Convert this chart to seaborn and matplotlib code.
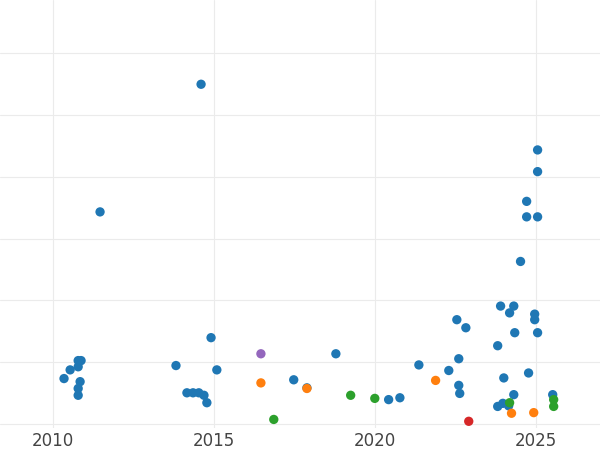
import matplotlib
matplotlib.use("Agg")
import matplotlib.pyplot as plt
import seaborn as sns
import pandas as pd

blue_x = [2010.34,2010.53,2010.78,2010.87,2010.78,2010.84,2010.78,2010.78,2011.46,2013.82,2014.16,2014.35,2014.53,2014.69,2014.78,2014.60,2014.91,2015.09,2017.48,2017.89,2018.79,2020.43,2020.78,2021.37,2022.30,2022.55,2022.61,2022.61,2022.64,2022.83,2023.82,2023.91,2024.01,2023.82,2023.98,2024.16,2024.19,2024.32,2024.32,2024.35,2024.53,2024.72,2024.72,2024.78,2025.06,2025.06,2025.06,2024.97,2024.97,2025.06,2025.53]
blue_y = [0.74,0.88,1.03,1.03,0.93,0.69,0.58,0.47,3.43,0.95,0.51,0.51,0.51,0.47,0.35,5.49,1.40,0.88,0.72,0.59,1.14,0.40,0.43,0.96,0.87,1.69,1.06,0.63,0.50,1.56,1.27,1.91,0.75,0.29,0.34,0.30,1.80,1.91,0.48,1.48,2.63,3.60,3.35,0.83,4.43,4.08,3.35,1.78,1.69,1.48,0.48]
orange_x = [2016.46,2017.89,2021.89,2024.25,2024.94]
orange_y = [0.67,0.58,0.71,0.18,0.19]
green_x = [2016.86,2019.25,2020.00,2024.19,2025.56,2025.56]
green_y = [0.08,0.47,0.42,0.35,0.40,0.29]
purple_x = [2016.46]
purple_y = [1.14]
red_x = [2022.92]
red_y = [0.05]

groups = [("blue", blue_x, blue_y), ("orange", orange_x, orange_y), ("green", green_x, green_y),
          ("purple", purple_x, purple_y), ("red", red_x, red_y)]
rows = []
for g, xs, ys in groups:
    rows += [{"year": x, "value": y, "group": g} for x, y in zip(xs, ys)]
df = pd.DataFrame(rows)
palette = {"blue": "#1f77b4", "orange": "#ff7f0e", "green": "#2ca02c", "purple": "#9467bd", "red": "#d62728"}

sns.set_style("whitegrid", {"grid.color": "#ebebeb"})
fig, ax = plt.subplots(figsize=(6, 4.5), dpi=100)
fig.subplots_adjust(left=0, right=1, top=1, bottom=0.05)
sns.scatterplot(data=df, x="year", y="value", hue="group", palette=palette, s=45,
                edgecolor="none", legend=False, ax=ax, zorder=3)
ax.set_xlim(2008.35, 2027.0)
ax.set_ylim(-0.05, 6.85)
ax.set_yticks(range(0, 7))
ax.set_yticklabels([])
ax.set_xticks([2010, 2015, 2020, 2025])
ax.tick_params(axis="x", labelsize=12, colors="#444444", length=0)
ax.tick_params(axis="y", length=0)
ax.set_xlabel("")
ax.set_ylabel("")
for s in ax.spines.values():
    s.set_visible(False)
fig.savefig("out.png", dpi=100)
